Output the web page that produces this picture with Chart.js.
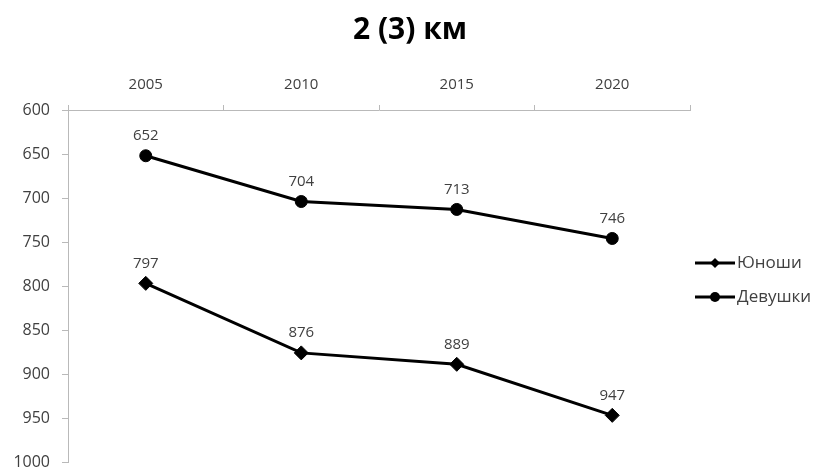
<!DOCTYPE html>
<html>
<head>
<meta charset="utf-8">
<title>2 (3) км</title>
<script src="https://cdn.jsdelivr.net/npm/chart.js"></script>
<style>
    body { margin: 0; background: #fff; }
    #chartContent { width: 816px; height: 470px; }
</style>
</head>
<body>
<div id="chartContent"><canvas id="chart" width="816" height="470"></canvas></div>
<script>
// datos
const titulo = '2 (3) км';
const anios = ['2005', '2010', '2015', '2020'];
const nombres = ['Юноши', 'Девушки'];
const yunoshi = [797, 876, 889, 947];
const devushki = [652, 704, 713, 746];
const ejeMin = 600;
const ejeMax = 1000;
const ejePaso = 50;

const gris = '#b9b9b9';
const texto = '#404040';
const fuente = '"Open Sans", "DejaVu Sans", sans-serif';

// valores encima de cada punto
const etiquetasValor = {
    id: 'etiquetasValor',
    afterDatasetsDraw(chart) {
        const ctx = chart.ctx;
        ctx.save();
        ctx.font = '15px ' + fuente;
        ctx.fillStyle = texto;
        ctx.textAlign = 'center';
        ctx.textBaseline = 'middle';
        chart.data.datasets.forEach((ds, i) => {
            chart.getDatasetMeta(i).data.forEach((p, j) => {
                ctx.fillText(ds.data[j], p.x, p.y - 20);
            });
        });
        ctx.restore();
    }
};

// titulo centrado sobre todo el lienzo (no solo sobre el area de la grafica)
const tituloCentrado = {
    id: 'tituloCentrado',
    afterDraw(chart) {
        const ctx = chart.ctx;
        ctx.save();
        ctx.font = 'bold 30px ' + fuente;
        ctx.fillStyle = '#000';
        ctx.textAlign = 'center';
        ctx.textBaseline = 'middle';
        ctx.fillText(titulo, chart.width / 2 + 2, 30);
        ctx.restore();
    }
};

function marcador(ctx, estilo, x, y, r) {
    ctx.beginPath();
    if (estilo === 'rectRot') {
        ctx.moveTo(x, y - r);
        ctx.lineTo(x + r, y);
        ctx.lineTo(x, y + r);
        ctx.lineTo(x - r, y);
        ctx.closePath();
    } else {
        ctx.arc(x, y, r, 0, Math.PI * 2);
    }
    ctx.fill();
}

// leyenda a la derecha: linea + marcador + texto
const leyenda = {
    id: 'leyenda',
    afterDraw(chart) {
        const ctx = chart.ctx;
        const area = chart.chartArea;
        const medio = (area.top + area.bottom) / 2 - 6;
        ctx.save();
        ctx.font = '17px ' + fuente;
        ctx.textBaseline = 'middle';
        chart.data.datasets.forEach((ds, i) => {
            const y = Math.round(medio + (i - 0.5) * 34);
            const x = area.right + 5;
            ctx.strokeStyle = ds.borderColor;
            ctx.lineWidth = 3;
            ctx.beginPath();
            ctx.moveTo(x, y);
            ctx.lineTo(x + 40, y);
            ctx.stroke();
            ctx.fillStyle = ds.pointBackgroundColor;
            marcador(ctx, ds.pointStyle, x + 20, y, 5);
            ctx.fillStyle = texto;
            ctx.fillText(ds.label, x + 42, y);
        });
        ctx.restore();
    }
};

function serie(label, data, estilo) {
    return {
        label: label,
        data: data,
        borderColor: '#000',
        backgroundColor: '#000',
        pointBackgroundColor: '#000',
        pointBorderColor: '#000',
        pointStyle: estilo,
        pointRadius: estilo === 'rectRot' ? 7 : 6,
        pointBorderWidth: 1,
        borderWidth: 3,
        tension: 0,
        fill: false
    };
}

const config = {
    type: 'line',
    data: {
        labels: anios,
        datasets: [
            serie(nombres[0], yunoshi, 'rectRot'),
            serie(nombres[1], devushki, 'circle')
        ]
    },
    options: {
        responsive: false,
        animation: false,
        devicePixelRatio: 1,
        layout: { padding: { left: 0, right: 126, top: 0, bottom: 8 } },
        plugins: {
            legend: { display: false },
            tooltip: { enabled: false },
            title: { display: false }
        },
        scales: {
            x: {
                position: 'top',
                offset: true,
                grid: { offset: true, drawOnChartArea: false, color: gris, tickLength: 5 },
                border: { color: gris },
                ticks: { color: texto, font: { family: fuente, size: 15 }, padding: 11 },
                afterFit: s => { s.height = 110; s.paddingLeft = 0; s.paddingRight = 0; }
            },
            y: {
                reverse: true,
                min: ejeMin,
                max: ejeMax,
                grid: { drawOnChartArea: false, color: gris, tickLength: 6 },
                border: { color: gris },
                ticks: {
                    stepSize: ejePaso,
                    color: texto,
                    font: { family: fuente, size: 16 },
                    padding: 12,
                    format: { useGrouping: false }
                },
                afterFit: s => { s.width = 68; s.paddingTop = 0; s.paddingBottom = 0; }
            }
        }
    },
    plugins: [etiquetasValor, tituloCentrado, leyenda]
};

new Chart(document.getElementById('chart'), config);
</script>
</body>
</html>
